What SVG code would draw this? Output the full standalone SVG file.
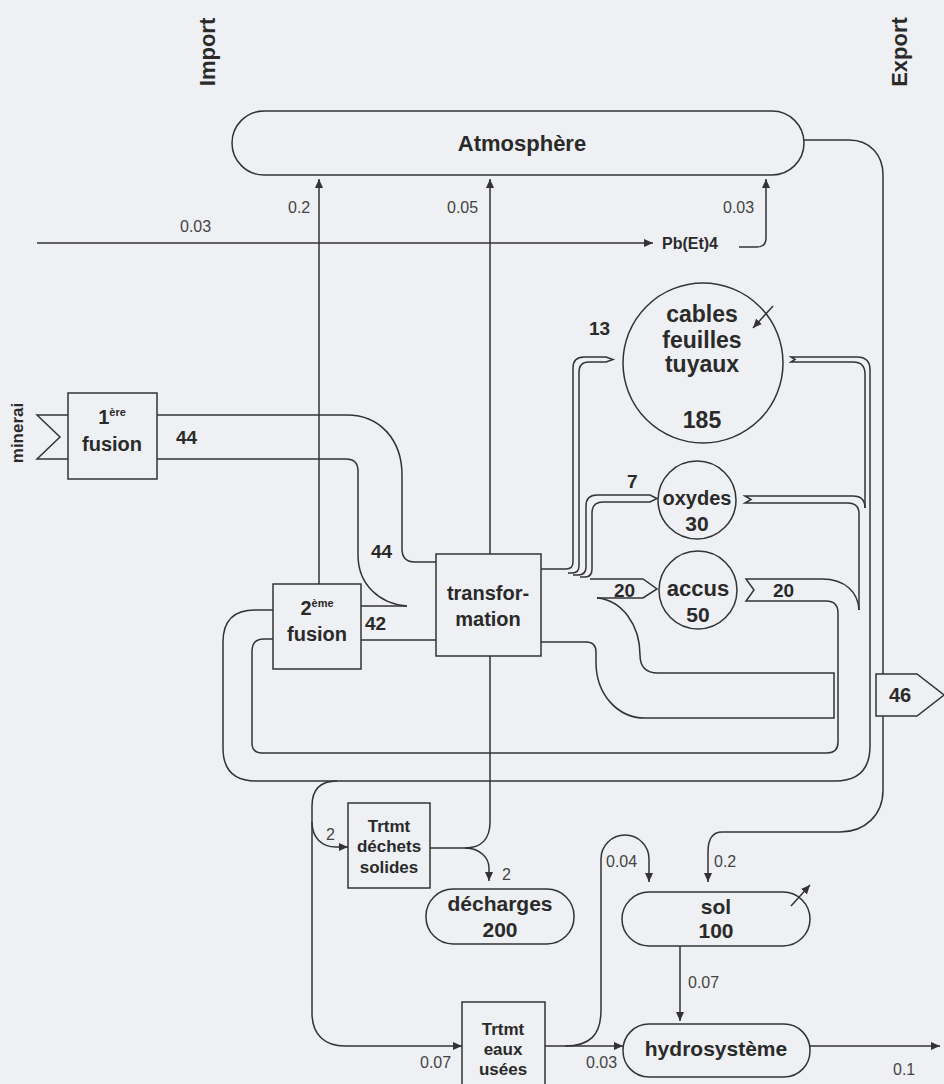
<svg xmlns="http://www.w3.org/2000/svg" width="944" height="1084" viewBox="0 0 944 1084">
<defs>
<style>
.ln{fill:none;stroke:#333;stroke-width:1.5}
.box{fill:#eef0f3;stroke:#333;stroke-width:1.5}
text{font-family:"Liberation Sans",Arial,Helvetica,sans-serif;fill:#2a2a2a}
.n{font-weight:bold;text-anchor:middle}
.s{font-size:16px;fill:#444}
.bl{font-size:19px;font-weight:bold}
</style>
<marker id="ah" markerWidth="9" markerHeight="8" refX="9" refY="4" orient="auto" markerUnits="userSpaceOnUse"><path d="M0,0 L9,4 L0,8 Z" fill="#333"/></marker>
</defs>
<rect width="944" height="1084" fill="#eef0f3"/>

<g id="titles">
<text class="n" font-size="22" transform="translate(215,52) rotate(-90)">Import</text>
<text class="n" font-size="22" transform="translate(907,52) rotate(-90)">Export</text>
</g>

<g id="connectors">
<path class="ln" d="M37,243 H653" marker-end="url(#ah)"/>
<path class="ln" d="M739,247 H757 Q766,247 766,238 V179" marker-end="url(#ah)"/>
<path class="ln" d="M319,584 V179" marker-end="url(#ah)"/>
<path class="ln" d="M490,554 V179" marker-end="url(#ah)"/>
<path class="ln" d="M804,140 H849 C870,140 883,155 883,175 V790 C883,815 865,832 840,832 H722 C712,832 708,840 708,852 V882" marker-end="url(#ah)"/>
<path class="ln" d="M157,415 H347 C380,415 402,440 402,475 V549 Q402,562 415,562 H436"/>
<path class="ln" d="M157,459 H346 Q358,459 358,471 V555 C358,585 380,604 407,606"/>
<path class="ln" d="M361,606 H407"/>
<path class="ln" d="M361,640 H436"/>
<path class="ln" d="M273,610 H255 Q223,610 223,642 V748 Q223,781 256,781 H835 Q870,781 870,746 V370 Q870,357 857,357 H791 L795,359.5 L791,362 H853 Q865,362 865,374 V508"/>
<path class="ln" d="M865,508 Q865,496 853,496 H745 L751,499.5 L745,503 H848 Q859,503 859,514 V610"/>
<path class="ln" d="M859,610 C858,592 845,579 822,579 H746 L754,590 L746,601 H826 Q838,601 838,613 V742 Q838,753 827,753 H262 Q252,753 252,743 V651 Q252,639 264,639 H273"/>
<path class="ln" d="M541,569 H566 Q573,569 573,562 V368 Q573,357 584,357 H606 L613,359.5 L606,362 H589 Q579,362 579,372 V566 Q579,573 572,573 H568"/>
<path class="ln" d="M573,575 H578 Q586,575 586,567 V506 Q586,495 597,495 H650 L657,498.5 L650,502 H603 Q592,502 592,513 V569 Q592,577 585,577 H580"/>
<path class="ln" d="M590,579 H643 L657,589 L643,598 H597"/>
<path class="ln" d="M597,598 C622,600 640,625 640,655 Q640,673 658,673 H834 V718 H645 C618,718 596,695 596,662 V652 Q596,642 586,642 H541"/>
<path class="ln" d="M337,781 Q312,781 312,806 V1013 C312,1035 325,1046 345,1046 H462" marker-end="url(#ah)"/>
<path class="ln" d="M312,822 C312,838 322,847 336,847 H348" marker-end="url(#ah)"/>
<path class="ln" d="M490,656 V822 C490,838 482,848 465,848 H430"/>
<path class="ln" d="M465,848 C480,848 489,858 489,868 V881" marker-end="url(#ah)"/>
<path class="ln" d="M545,1046 H623" marker-end="url(#ah)"/>
<path class="ln" d="M565,1046 C590,1046 601,1035 601,1010 V859 A24,24 0 0 1 649,859 V882" marker-end="url(#ah)"/>
<path class="ln" d="M680,946 V1021" marker-end="url(#ah)"/>
<path class="ln" d="M810,1046 H940" marker-end="url(#ah)"/>
</g>

<g id="atmosphere">
<rect class="box" x="232" y="111" width="572" height="64" rx="32"/>
<text class="n" font-size="22" x="522" y="151">Atmosphère</text>
</g>

<g id="pbet4">
<text font-size="16" font-weight="bold" x="662" y="249">Pb(Et)4</text>
</g>

<g id="cables">
<circle class="box" cx="703" cy="363" r="80"/>
<text class="n" font-size="23" x="702" y="322">cables</text>
<text class="n" font-size="23" x="702" y="348">feuilles</text>
<text class="n" font-size="23" x="702" y="372">tuyaux</text>
<text class="n" font-size="23" x="702" y="428">185</text>
<path class="ln" d="M773,306 L753,328" marker-end="url(#ah)"/>
</g>

<g id="oxydes">
<circle class="box" cx="697" cy="500" r="39"/>
<text class="n" font-size="20" x="697" y="505">oxydes</text>
<text class="n" font-size="21" x="697" y="531">30</text>
</g>

<g id="accus">
<circle class="box" cx="698" cy="590" r="39"/>
<text class="n" font-size="22" x="698" y="596">accus</text>
<text class="n" font-size="21" x="698" y="622">50</text>
</g>

<g id="transformation">
<rect class="box" x="436" y="554" width="105" height="102"/>
<text class="n" font-size="20" x="488" y="600">transfor-</text>
<text class="n" font-size="20" x="488" y="626">mation</text>
</g>

<g id="fusion1">
<path class="ln" d="M68,415 H37 L60,437 L37,459 H68"/>
<rect class="box" x="68" y="393" width="89" height="86"/>
<text class="n" font-size="20" x="112" y="424">1<tspan font-size="11" dy="-8">ère</tspan></text>
<text class="n" font-size="20" x="112" y="451">fusion</text>
<text class="n" font-size="17" transform="translate(23,433) rotate(-90)">minerai</text>
</g>

<g id="fusion2">
<rect class="box" x="273" y="584" width="88" height="85"/>
<text class="n" font-size="20" x="317" y="615">2<tspan font-size="11" dy="-8">ème</tspan></text>
<text class="n" font-size="20" x="317" y="641">fusion</text>
</g>

<g id="trtmt-dechets">
<rect class="box" x="348" y="803" width="82" height="85"/>
<text class="n" font-size="17" x="389" y="832">Trtmt</text>
<text class="n" font-size="17" x="389" y="852">déchets</text>
<text class="n" font-size="17" x="389" y="873">solides</text>
</g>

<g id="decharges">
<rect class="box" x="426" y="889" width="148" height="55" rx="27"/>
<text class="n" font-size="21" x="500" y="911">décharges</text>
<text class="n" font-size="21" x="500" y="937">200</text>
</g>

<g id="sol">
<rect class="box" x="622" y="892" width="188" height="54" rx="27"/>
<text class="n" font-size="21" x="716" y="914">sol</text>
<text class="n" font-size="21" x="716" y="938">100</text>
<path class="ln" d="M791,906 L810,885" marker-end="url(#ah)"/>
</g>

<g id="hydrosysteme">
<rect class="box" x="623" y="1024" width="187" height="53" rx="26"/>
<text class="n" font-size="21" x="716" y="1056">hydrosystème</text>
</g>

<g id="trtmt-eaux">
<rect class="box" x="462" y="1002" width="83" height="95"/>
<text class="n" font-size="17" x="503" y="1035">Trtmt</text>
<text class="n" font-size="17" x="503" y="1055">eaux</text>
<text class="n" font-size="17" x="503" y="1075">usées</text>
</g>

<g id="export46">
<path class="box" d="M876,674 H917 L944,695 L917,716 H876 Z"/>
<text class="n" font-size="20" x="900" y="702">46</text>
</g>

<g id="labels">
<text class="bl" x="176" y="444">44</text>
<text class="bl" x="371" y="558">44</text>
<text class="bl" x="365" y="630">42</text>
<text class="bl" x="589" y="335">13</text>
<text class="bl" x="627" y="488">7</text>
<text class="bl" x="614" y="597">20</text>
<text class="bl" x="773" y="597">20</text>
<text class="s" x="180" y="232">0.03</text>
<text class="s" x="288" y="213">0.2</text>
<text class="s" x="447" y="213">0.05</text>
<text class="s" x="723" y="213">0.03</text>
<text class="s" x="326" y="840">2</text>
<text class="s" x="502" y="880">2</text>
<text class="s" x="606" y="867">0.04</text>
<text class="s" x="714" y="867">0.2</text>
<text class="s" x="688" y="988">0.07</text>
<text class="s" x="420" y="1068">0.07</text>
<text class="s" x="586" y="1068">0.03</text>
<text class="s" x="893" y="1075">0.1</text>
</g>
</svg>
